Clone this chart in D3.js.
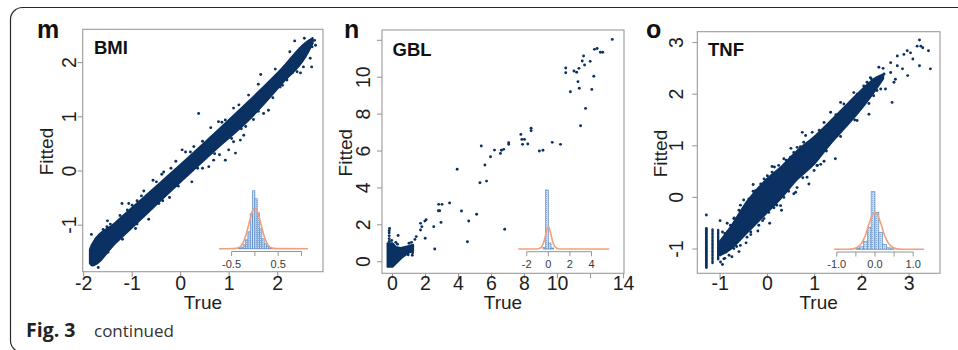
<!DOCTYPE html>
<html><head><meta charset="utf-8">
<script src="https://cdn.jsdelivr.net/npm/d3@7"></script>
<style>
html,body{margin:0;padding:0;background:#fff;}
svg{display:block;}
</style></head>
<body>
<svg id="chart" width="958" height="350"></svg>
<script>
// ---------------- DATA ----------------
// Panel m : BMI
const bmiXTicks = [-2, -1, 0, 1, 2];
const bmiYTicks = [-1, 0, 1, 2];
const bmiBandTrue = [-1.87, -1.83, -1.35, -0.66, 0.03, 0.71, 1.40, 2.09, 2.57, 2.72];
const bmiBandLow  = [-1.70, -1.74, -1.33, -0.75, -0.17, 0.39, 0.94, 1.62, 2.11, 2.36];
const bmiBandHigh = [-1.45, -1.36, -0.96, -0.41, 0.14, 0.70, 1.28, 1.89, 2.36, 2.45];
const bmiTrue   = [-1.84,-1.52,-1.51,-1.21,-1.07,-0.81,-0.76,-0.39,-0.35,-0.57,0.03,0.27,0.37,0.54,0.78,0.92,1.09,1.40,0.68,0.58,0.92,1.13,1.09,1.23,1.30,1.34,1.36,0.99,1.71,1.81,2.23,2.30,2.40,2.47,2.53,2.67,2.70,2.71,2.78,2.76,0.23,-0.37,-0.23,-0.66,-0.93,2.19,2.05,2.62,1.55,0.45,-1.00,-1.75,-1.68,0.10,0.62,1.65,2.35,2.55,-0.10,0.80,1.50,1.90,
  -1.60,-1.45,-1.25,-1.10,-0.90,-0.50,-0.20,0.20,0.45,0.85,1.20,1.60,1.95,2.25,-1.70,-1.50,-1.20,-0.90,-0.45,-0.05,0.35,0.70,1.05,1.25,1.60,1.85,2.10,2.40];
const bmiFitted = [-1.17,-1.03,-0.92,-0.60,-0.60,-0.46,-0.37,-0.06,-0.02,-0.17,0.39,0.45,1.06,0.51,0.91,0.94,1.16,1.40,0.20,0.08,0.20,0.33,0.54,0.57,0.66,0.82,0.94,0.39,1.06,1.12,1.83,1.81,1.83,1.81,1.92,2.08,1.92,2.29,2.32,2.41,-0.20,-0.55,-0.49,-0.89,-1.06,1.68,1.55,2.20,1.10,0.05,-0.63,-1.35,-1.25,0.35,0.80,1.78,2.40,2.45,0.18,0.30,0.95,1.35,
  -1.08,-0.98,-0.82,-0.72,-0.55,-0.20,0.05,0.35,0.55,0.90,1.22,1.60,1.88,2.20,-1.78,-1.50,-1.26,-0.98,-0.60,-0.28,0.05,0.32,0.60,0.78,1.10,1.42,1.58,1.95];
const bmiHistEdges  = [-0.35,-0.30,-0.25,-0.20,-0.15,-0.10,-0.05,0.00,0.05,0.10,0.15,0.20,0.25,0.30,0.35,0.40];
const bmiHistCounts = [0.5,1.5,4,9,17,35,58,50,36,20,10,5,2.5,1,0.5];
const bmiCurveX = [-0.77,-0.45,-0.35,-0.30,-0.25,-0.20,-0.15,-0.10,-0.05,0.00,0.05,0.10,0.15,0.20,0.25,0.30,0.35,0.45,1.14];
const bmiCurveY = [0,0.2,1.1,2.9,6.5,12.5,21,30,38,41,38,30,21,12.5,6.5,2.9,1.1,0.2,0];
const bmiInsetTicks = [-0.5, 0, 0.5, 1.0];
const bmiInsetLabels = ["-0.5", "", "0.5", ""];

// Panel n : GBL
const gblXTicks = [0, 2, 4, 6, 8, 10, 12, 14];
const gblXLabels = ["0", "2", "4", "6", "8", "10", "", "14"];
const gblYTicks = [0, 2, 4, 6, 8, 10, 12];
const gblYLabels = ["0", "2", "4", "6", "8", "10", ""];
const gblClusterTrue   = [-0.30,-0.30,0.00,0.20,0.50,1.00,1.25,1.25,1.00,0.60,0.20,0.00];
const gblClusterFitted = [-0.28,1.00,1.00,0.80,0.75,0.85,0.92,0.58,0.50,0.25,-0.10,-0.28];
const gblTrue   = [13.32,12.24,12.40,12.60,12.74,11.58,11.50,11.98,11.64,11.30,10.50,10.50,11.00,11.16,11.24,11.32,10.78,12.20,12.08,11.70,11.40,8.40,8.40,7.78,7.84,8.00,7.88,8.20,7.04,7.04,6.60,6.74,6.54,5.94,6.18,5.38,5.60,5.70,5.30,3.92,8.90,9.12,9.68,10.18,3.46,2.80,3.00,2.78,2.86,2.94,2.50,2.56,2.04,1.96,1.70,1.78,1.70,1.98,4.18,5.10,4.62,4.54,6.80,1.44,1.36,-0.20,-0.20,-0.20,-0.20,-0.20,-0.18,0.34,1.20,0.95,1.22,0.50,0.20,-0.05,1.00,1.15,0.30];
const gblFitted = [12.05,11.51,11.56,11.35,11.35,11.15,10.88,10.86,10.66,10.48,10.50,10.24,10.34,10.27,9.76,9.40,9.21,10.05,9.34,8.31,7.37,7.23,7.10,6.90,6.63,6.63,6.36,6.38,6.45,6.36,6.04,6.09,5.87,5.69,6.05,6.27,5.24,4.37,4.28,5.01,6.00,6.04,6.47,6.36,3.18,3.11,3.11,2.76,2.76,2.13,1.90,0.69,2.28,2.20,2.08,1.90,1.72,1.27,2.75,2.57,2.21,1.08,1.76,1.36,1.21,1.10,1.25,1.40,1.55,1.68,1.80,1.42,0.35,0.38,0.48,0.20,1.05,1.15,1.00,1.05,0.95];
const gblHistEdges  = [-0.50,-0.25,0.00,0.25,0.50];
const gblHistCounts = [1.5,59,6,1];
const gblCurveX = [-2.78,-1.20,-0.90,-0.70,-0.50,-0.35,-0.20,-0.10,0.00,0.10,0.20,0.35,0.50,0.70,0.90,1.20,5.65];
const gblCurveY = [0,0,0.3,1.3,4.5,9.5,16.5,20.5,22.3,20.5,16.5,9.5,4.5,1.3,0.3,0,0];
const gblInsetTicks = [-2, 0, 2, 4];
const gblInsetLabels = ["-2", "0", "2", "4"];

// Panel o : TNF
const tnfXTicks = [-1, 0, 1, 2, 3];
const tnfYTicks = [-1, 0, 1, 2, 3];
const tnfBandTrue = [-1.00,-0.78,-0.43,-0.07,0.28,0.63,0.99,1.34,1.69,2.04,2.30,2.45];
const tnfBandLow  = [-1.12,-1.00,-0.68,-0.35,-0.02,0.35,0.65,1.05,1.40,1.78,2.10,2.30];
const tnfBandHigh = [-0.85,-0.58,-0.08,0.30,0.58,0.90,1.17,1.48,1.80,2.12,2.32,2.38];
const tnfStripTrue = [-1.29, -1.16, -1.04];
const tnfStripLow  = [-1.36, -1.27, -1.20];
const tnfStripHigh = [-0.60, -0.62, -0.63];
const tnfTrue   = [-1.29,-0.57,-0.25,-0.18,-0.07,0.15,0.24,0.35,0.63,0.74,0.81,1.34,1.55,2.18,2.36,2.61,2.75,2.89,2.96,3.03,3.17,3.22,3.25,3.29,3.41,3.45,3.22,3.08,2.75,2.86,2.97,2.68,2.71,2.61,2.47,2.64,2.25,2.32,2.50,2.15,1.90,1.83,1.44,1.34,1.20,1.13,0.99,0.84,0.88,0.63,0.56,0.35,0.46,0.28,0.14,0.03,-0.07,-0.18,-0.28,-0.35,-0.43,-0.57,-0.64,-0.71,-0.81,-0.88,-0.92,-0.95,-0.85,-0.78,-0.71,-0.64,-0.49,-0.43,-0.39,-0.57,-0.92,-0.99,-0.78,0.10,0.03,-0.14,0.49,0.56,0.77,0.95,1.20,1.62,1.83,2.04,2.11,1.97,1.69,1.55,1.48,1.06,
  -0.90,-0.70,-0.60,-0.30,0.00,0.40,0.70,1.10,1.45,1.90,2.20,2.45,-0.90,-0.65,-0.35,-0.10,0.20,0.45,0.75,1.05,1.25,1.55,1.85,2.15,2.40,
  -1.00,-0.95,-0.85,-0.75,-0.60,-0.50,-0.45,-0.30,-0.20,0.05,0.10,0.30,0.50,0.60];
const tnfFitted = [-0.34,-0.15,0.13,0.17,0.36,0.59,0.62,0.75,0.97,1.26,1.20,1.65,1.84,2.32,2.52,2.61,2.74,2.77,2.84,2.80,2.93,3.05,2.93,2.90,2.84,2.49,2.55,2.68,2.55,2.49,2.36,2.23,2.29,2.42,2.39,1.84,1.97,2.07,2.10,1.61,1.49,1.58,0.75,1.07,0.70,0.64,0.52,0.39,0.26,0.19,0.07,0.00,0.19,-0.16,-0.20,-0.29,-0.41,-0.54,-0.41,-0.67,-0.77,-0.93,-0.80,-0.99,-1.12,-1.06,-0.93,-0.67,-0.67,-0.54,-0.41,-0.54,-0.32,-0.15,-0.03,-0.41,-1.19,-1.25,-0.86,0.49,0.36,0.26,0.78,0.87,1.07,1.26,1.45,1.81,2.03,2.16,2.23,1.90,1.52,1.33,1.20,0.62,
  -0.70,-0.40,-0.25,0.12,0.42,0.72,0.98,1.30,1.60,2.00,2.30,2.50,-1.18,-0.95,-0.72,-0.45,-0.15,0.12,0.38,0.62,0.90,1.18,1.50,1.82,2.10,
  -0.45,-1.30,-0.50,-1.15,-1.05,-0.05,-0.88,0.25,-0.65,-0.50,0.60,-0.25,0.95,0.10];
const tnfHistEdges  = [-0.5,-0.4,-0.3,-0.2,-0.1,0.0,0.1,0.2,0.3,0.4,0.5];
const tnfHistCounts = [0.8,2.5,8,22,57.6,37,17,5,1.5,0.5];
const tnfCurveX = [-1.07,-0.70,-0.55,-0.45,-0.35,-0.25,-0.15,-0.05,0.00,0.05,0.15,0.25,0.35,0.45,0.55,0.70,1.28];
const tnfCurveY = [0,0.1,0.7,2.3,6.2,14.1,26,35.7,37,35.7,26,14.1,6.2,2.3,0.7,0.1,0];
const tnfInsetTicks = [-1.0, -0.5, 0.0, 0.5, 1.0];
const tnfInsetLabels = ["-1.0", "", "0.0", "", "1.0"];

// ---------------- LAYOUT / STYLE ----------------
const NAVY = "#0a3162";
const BOX = "#9a9a9a";
const TXT = "#1e1e1e";
const ORANGE = "#f0a07c";
const FONT = "'Liberation Sans', Arial, sans-serif";

const svg = d3.select("#chart");

svg.append("rect").attr("x", 10.5).attr("y", 7.5).attr("width", 1000).attr("height", 345)
  .attr("rx", 12).attr("fill", "none").attr("stroke", "#2a2a2a").attr("stroke-width", 1.2);

const defs = svg.append("defs");
const pat = defs.append("pattern").attr("id", "histpat").attr("patternUnits", "userSpaceOnUse")
  .attr("width", 2).attr("height", 2);
pat.append("rect").attr("width", 2).attr("height", 2).attr("fill", "#cddcee");
pat.append("rect").attr("width", 1).attr("height", 1).attr("fill", "#8fb0d8");

const panels = [
  { key: "m", title: "BMI", labelX: 37, titleX: 94, titleY: 54,
    box: { x0: 82.7, x1: 323, y0: 29.3, y1: 271.7 },
    xDom: [-2.02, 2.934], yDom: [-1.858, 2.614],
    xTicks: bmiXTicks, xLabels: bmiXTicks.map(String),
    yTicks: bmiYTicks, yLabels: bmiYTicks.map(String), yLabOff: 6.5, fittedX: 52.5,
    bandT: bmiBandTrue, bandL: bmiBandLow, bandH: bmiBandHigh,
    ptsT: bmiTrue, ptsF: bmiFitted,
    inset: { x0: 219, x1: 308, dom: [-0.77, 1.14], base: 248.8,
      edges: bmiHistEdges, counts: bmiHistCounts, cx: bmiCurveX, cy: bmiCurveY,
      ticks: bmiInsetTicks, labels: bmiInsetLabels } },
  { key: "n", title: "GBL", labelX: 344, titleX: 392.5, titleY: 55.5,
    box: { x0: 382, x1: 624, y0: 30, y1: 273.3 },
    xDom: [-0.636, 14.03], yDom: [-0.629, 12.56],
    xTicks: gblXTicks, xLabels: gblXLabels,
    yTicks: gblYTicks, yLabels: gblYLabels, yLabOff: 12, fittedX: 352,
    polyT: gblClusterTrue, polyF: gblClusterFitted,
    ptsT: gblTrue, ptsF: gblFitted,
    inset: { x0: 518.3, x1: 609.3, dom: [-2.78, 5.65], base: 249,
      edges: gblHistEdges, counts: gblHistCounts, cx: gblCurveX, cy: gblCurveY,
      ticks: gblInsetTicks, labels: gblInsetLabels } },
  { key: "o", title: "TNF", labelX: 646, titleX: 708, titleY: 55.5,
    box: { x0: 697.3, x1: 940, y0: 31.7, y1: 273.3 },
    xDom: [-1.482, 3.654], yDom: [-1.47, 3.21],
    xTicks: tnfXTicks, xLabels: tnfXTicks.map(String),
    yTicks: tnfYTicks, yLabels: tnfYTicks.map(String), yLabOff: 14, fittedX: 667,
    bandT: tnfBandTrue, bandL: tnfBandLow, bandH: tnfBandHigh,
    stripT: tnfStripTrue, stripL: tnfStripLow, stripH: tnfStripHigh,
    ptsT: tnfTrue, ptsF: tnfFitted,
    inset: { x0: 834.1, x1: 923.9, dom: [-1.07, 1.28], base: 249.3,
      edges: tnfHistEdges, counts: tnfHistCounts, cx: tnfCurveX, cy: tnfCurveY,
      ticks: tnfInsetTicks, labels: tnfInsetLabels } }
];

panels.forEach(p => {
  const b = p.box;
  const x = d3.scaleLinear().domain(p.xDom).range([b.x0, b.x1]);
  const y = d3.scaleLinear().domain(p.yDom).range([b.y1, b.y0]);
  const g = svg.append("g");

  defs.append("clipPath").attr("id", "clip-" + p.key)
    .append("rect").attr("x", b.x0).attr("y", b.y0).attr("width", b.x1 - b.x0).attr("height", b.y1 - b.y0);
  const plot = g.append("g").attr("clip-path", `url(#clip-${p.key})`);

  if (p.bandT) {
    const rows = p.bandT.map((t, i) => ({ t, lo: p.bandL[i], hi: p.bandH[i] }));
    const area = d3.area().x(d => x(d.t)).y0(d => y(d.lo)).y1(d => y(d.hi)).curve(d3.curveMonotoneX);
    plot.append("path").datum(rows).attr("d", area).attr("fill", NAVY)
      .attr("stroke", NAVY).attr("stroke-width", 2.2).attr("stroke-linejoin", "round");
  }
  if (p.polyT) {
    const pts = p.polyT.map((t, i) => [x(t), y(p.polyF[i])]);
    plot.append("path").attr("d", d3.line().curve(d3.curveLinearClosed)(pts))
      .attr("fill", NAVY).attr("stroke", NAVY).attr("stroke-width", 2).attr("stroke-linejoin", "round");
  }
  if (p.stripT) {
    p.stripT.forEach((t, i) => {
      plot.append("line").attr("x1", x(t)).attr("x2", x(t))
        .attr("y1", y(p.stripL[i])).attr("y2", y(p.stripH[i]))
        .attr("stroke", NAVY).attr("stroke-width", i === 0 ? 2.8 : 2.4).attr("stroke-linecap", "round")
        .attr("stroke-dasharray", i === 0 ? null : "2.6,0.9");
    });
  }
  plot.selectAll("circle.pt").data(p.ptsT.map((t, i) => [t, p.ptsF[i]])).enter()
    .append("circle").attr("class", "pt").attr("cx", d => x(d[0])).attr("cy", d => y(d[1]))
    .attr("r", 1.45).attr("fill", NAVY);

  g.append("rect").attr("x", b.x0).attr("y", b.y0).attr("width", b.x1 - b.x0).attr("height", b.y1 - b.y0)
    .attr("fill", "none").attr("stroke", BOX).attr("stroke-width", 1.1);

  p.xTicks.forEach((t, i) => {
    g.append("line").attr("x1", x(t)).attr("x2", x(t)).attr("y1", b.y1).attr("y2", b.y1 + 5)
      .attr("stroke", BOX).attr("stroke-width", 1.1);
    if (p.xLabels[i]) g.append("text").attr("x", x(t)).attr("y", 289.5).attr("text-anchor", "middle")
      .attr("font-family", FONT).attr("font-size", 19.5).attr("fill", TXT).text(p.xLabels[i]);
  });
  p.yTicks.forEach((t, i) => {
    g.append("line").attr("x1", b.x0 - 5).attr("x2", b.x0).attr("y1", y(t)).attr("y2", y(t))
      .attr("stroke", BOX).attr("stroke-width", 1.1);
    if (p.yLabels[i]) {
      const lx = b.x0 - p.yLabOff, ly = y(t);
      g.append("text").attr("transform", `translate(${lx},${ly}) rotate(-90)`).attr("text-anchor", "middle")
        .attr("font-family", FONT).attr("font-size", 19.5).attr("fill", TXT).text(p.yLabels[i]);
    }
  });
  g.append("text").attr("x", (b.x0 + b.x1) / 2).attr("y", 308.5).attr("text-anchor", "middle")
    .attr("font-family", FONT).attr("font-size", 19).attr("fill", TXT).text("True");
  g.append("text").attr("transform", `translate(${p.fittedX},${(b.y0 + b.y1) / 2 + 1}) rotate(-90)`)
    .attr("text-anchor", "middle").attr("font-family", FONT).attr("font-size", 19).attr("fill", TXT).text("Fitted");
  g.append("text").attr("x", p.labelX).attr("y", 37.5).attr("font-family", FONT).attr("font-weight", "bold")
    .attr("font-size", 25).attr("fill", "#111").text(p.key);
  g.append("text").attr("x", p.titleX).attr("y", p.titleY).attr("font-family", FONT).attr("font-weight", "bold")
    .attr("font-size", 18.5).attr("fill", "#111").text(p.title);

  const s = p.inset;
  const ix = d3.scaleLinear().domain(s.dom).range([s.x0, s.x1]);
  const iy = d3.scaleLinear().domain([0, 60]).range([s.base, s.base - 60]);
  const bins = s.counts.map((c, i) => ({ a: s.edges[i], b: s.edges[i + 1], c }));
  g.selectAll("rect.bar-" + p.key).data(bins).enter().append("rect")
    .attr("x", d => ix(d.a)).attr("width", d => ix(d.b) - ix(d.a))
    .attr("y", d => iy(d.c)).attr("height", d => iy(0) - iy(d.c))
    .attr("fill", "url(#histpat)").attr("stroke", "#5f8cc4").attr("stroke-width", 0.7);
  const curve = s.cx.map((v, i) => [ix(v), iy(s.cy[i])]);
  g.append("path").attr("d", d3.line().curve(d3.curveMonotoneX)(curve))
    .attr("fill", "none").attr("stroke", ORANGE).attr("stroke-width", 1.6);
  const axY = s.base + 2.7;
  g.append("line").attr("x1", ix(s.ticks[0])).attr("x2", ix(s.ticks[s.ticks.length - 1]))
    .attr("y1", axY).attr("y2", axY).attr("stroke", "#8a8a8a").attr("stroke-width", 0.9);
  s.ticks.forEach((t, i) => {
    g.append("line").attr("x1", ix(t)).attr("x2", ix(t)).attr("y1", axY).attr("y2", axY + 4.5)
      .attr("stroke", "#8a8a8a").attr("stroke-width", 0.9);
    if (s.labels[i]) g.append("text").attr("x", ix(t)).attr("y", 267.5).attr("text-anchor", "middle")
      .attr("font-family", FONT).attr("font-size", 11).attr("fill", "#3a3a3a").text(s.labels[i]);
  });
});

// caption
svg.append("text").attr("x", 26).attr("y", 337).attr("font-family", "'Open Sans', 'Noto Sans', sans-serif")
  .attr("font-size", 19.5).attr("font-weight", "bold").attr("fill", "#222").text("Fig. 3");
svg.append("text").attr("x", 94).attr("y", 337).attr("font-family", "'Open Sans', 'Noto Sans', sans-serif")
  .attr("font-size", 17).attr("fill", "#333").text("continued");
</script>
</body></html>
